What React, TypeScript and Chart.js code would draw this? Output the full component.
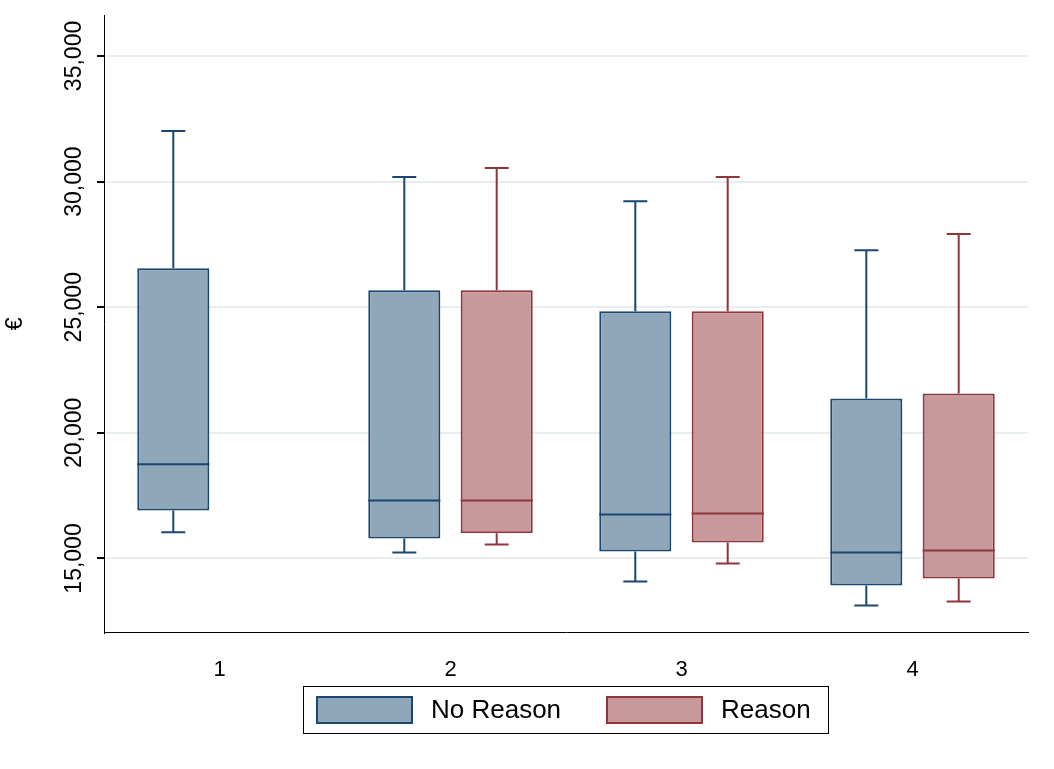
import React, { useEffect, useRef } from "react";
import { Chart, registerables } from "chart.js";
Chart.register(...registerables);

const categories = ["1", "2", "3", "4"];
const yTicks = [15000, 20000, 25000, 30000, 35000];
// [low, q1, median, q3, high]
const noReason: (number[] | null)[] = [
  [16040, 16910, 18750, 26550, 32010],
  [15240, 15800, 17310, 25680, 30180],
  [14080, 15280, 16750, 24840, 29220],
  [13130, 13920, 15240, 21370, 27270],
];
const reason: (number[] | null)[] = [
  null,
  [15560, 16000, 17310, 25680, 30540],
  [14800, 15640, 16790, 24840, 30180],
  [13290, 14200, 15320, 21570, 27910],
];

const FONT = "'Liberation Sans', Arial, sans-serif";

const boxPlugin = {
  id: "boxExtras",
  afterDatasetsDraw(chart: any) {
    const ctx = chart.ctx;
    const y = chart.scales.y;
    const sets = [noReason, reason];
    chart.data.datasets.forEach((ds: any, di: number) => {
      const meta = chart.getDatasetMeta(di);
      meta.data.forEach((el: any, i: number) => {
        const s = sets[di][i];
        if (!s) return;
        const x = el.x;
        const w = el.width;
        ctx.save();
        ctx.strokeStyle = ds.borderColor;
        ctx.lineWidth = 2;
        ctx.beginPath();
        ctx.moveTo(x - w / 2, y.getPixelForValue(s[2]));
        ctx.lineTo(x + w / 2, y.getPixelForValue(s[2]));
        ctx.moveTo(x, y.getPixelForValue(s[3]));
        ctx.lineTo(x, y.getPixelForValue(s[4]));
        ctx.moveTo(x - 12, y.getPixelForValue(s[4]));
        ctx.lineTo(x + 12, y.getPixelForValue(s[4]));
        ctx.moveTo(x, y.getPixelForValue(s[1]));
        ctx.lineTo(x, y.getPixelForValue(s[0]));
        ctx.moveTo(x - 12, y.getPixelForValue(s[0]));
        ctx.lineTo(x + 12, y.getPixelForValue(s[0]));
        ctx.stroke();
        ctx.restore();
      });
    });
    ctx.save();
    ctx.fillStyle = "#000";
    ctx.font = `23px ${FONT}`;
    ctx.textAlign = "center";
    ctx.textBaseline = "middle";
    yTicks.forEach((t) => {
      const py = y.getPixelForValue(t);
      ctx.save();
      ctx.translate(75, py);
      ctx.rotate(-Math.PI / 2);
      ctx.fillText(t.toLocaleString("en-US"), 0, 0);
      ctx.restore();
    });
    ctx.save();
    ctx.translate(16, (chart.chartArea.top + chart.chartArea.bottom) / 2);
    ctx.rotate(-Math.PI / 2);
    ctx.fillText("€", 0, 0);
    ctx.restore();
    // legend
    ctx.strokeStyle = "#000";
    ctx.lineWidth = 1;
    ctx.strokeRect(303.5, 686.5, 525, 47);
    const items = [
      { bx: 317, tx: 431 },
      { bx: 607, tx: 721 },
    ];
    chart.data.datasets.forEach((ds: any, di: number) => {
      const it = items[di];
      ctx.fillStyle = ds.backgroundColor;
      ctx.fillRect(it.bx, 697, 95, 26);
      ctx.strokeStyle = ds.borderColor;
      ctx.lineWidth = 2;
      ctx.strokeRect(it.bx, 697, 95, 26);
      ctx.fillStyle = "#000";
      ctx.font = `26px ${FONT}`;
      ctx.textAlign = "left";
      ctx.textBaseline = "middle";
      ctx.fillText(ds.label, it.tx, 711);
    });
    ctx.restore();
  },
};

export default function App() {
  const ref = useRef<HTMLCanvasElement>(null);
  useEffect(() => {
    document.body.style.margin = "0";
    const chart = new Chart(ref.current!, {
      type: "bar",
      data: {
        labels: categories,
        datasets: [
          {
            label: "No Reason",
            data: noReason.map((s) => (s ? [s[1], s[3]] : null)) as any,
            backgroundColor: "#90a6b9",
            borderColor: "#1a476f",
            borderWidth: 2,
            borderSkipped: false,
          },
          {
            label: "Reason",
            data: reason.map((s) => (s ? [s[1], s[3]] : null)) as any,
            backgroundColor: "#c8999b",
            borderColor: "#90353b",
            borderWidth: 2,
            borderSkipped: false,
          },
        ],
      },
      options: {
        animation: false,
        responsive: false,
        layout: { padding: { left: 4, top: 15, right: 26, bottom: 70 } },
        datasets: { bar: { categoryPercentage: 0.8, barPercentage: 0.78, grouped: true } },
        scales: {
          x: {
            grid: { display: false },
            border: { color: "#000", width: 1 },
            ticks: { color: "#000", font: { family: FONT, size: 22 }, padding: 16 },
          },
          y: {
            min: 12050,
            max: 36630,
            afterBuildTicks: (s: any) => {
              s.ticks = yTicks.map((v) => ({ value: v }));
            },
            afterFit: (s: any) => {
              s.width = 100;
            },
            grid: { color: "#e8eef0", lineWidth: 2, drawTicks: true, tickLength: 7, tickColor: "#000" },
            border: { color: "#000", width: 1 },
            ticks: { display: false },
          },
        },
        plugins: {
          tooltip: { enabled: false },
          legend: { display: false },
        },
      },
      plugins: [boxPlugin],
    });
    return () => chart.destroy();
  }, []);
  return <canvas ref={ref} width={1054} height={769} style={{ display: "block" }} />;
}
